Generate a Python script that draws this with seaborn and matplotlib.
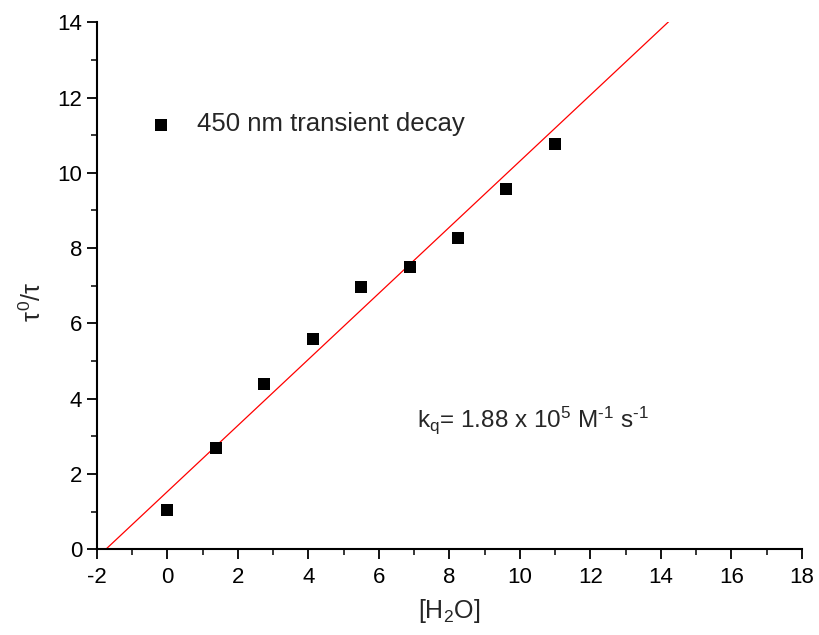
import numpy as np
import pandas as pd
import matplotlib
matplotlib.use('Agg')
import matplotlib.pyplot as plt
import seaborn as sns
from matplotlib.ticker import MultipleLocator

# data
water = [0.0, 1.37, 2.75, 4.12, 5.50, 6.87, 8.25, 9.62, 11.0]
tau_ratio = [1.03, 2.70, 4.40, 5.58, 6.97, 7.50, 8.27, 9.57, 10.77]
x_ticks = [-2, 0, 2, 4, 6, 8, 10, 12, 14, 16, 18]
y_ticks = [0, 2, 4, 6, 8, 10, 12, 14]
# Stern-Volmer line as drawn in the reference
fit_slope = 0.878
fit_intercept = 1.53

df = pd.DataFrame({'water': water, 'ratio': tau_ratio})

sns.set_style('ticks')
plt.rcParams['font.family'] = ['Liberation Sans', 'DejaVu Sans']
plt.rcParams['mathtext.fontset'] = 'custom'
plt.rcParams['mathtext.rm'] = 'Liberation Sans'
plt.rcParams['mathtext.it'] = 'Liberation Sans'
plt.rcParams['axes.unicode_minus'] = False

fig = plt.figure(figsize=(8.2, 6.35), dpi=100)
ax = fig.add_axes([0.118, 0.135, 0.860, 0.830])

xl = np.array([-5, 20])
ax.plot(xl, fit_slope * xl + fit_intercept, color='red', lw=0.9, zorder=1)

sns.scatterplot(data=df, x='water', y='ratio', marker='s', s=64, color='black',
                edgecolor='black', linewidth=0, ax=ax, zorder=3,
                label='450 nm transient decay')

ax.set_xlim(-2, 18)
ax.set_ylim(0, 14)
ax.set_xticks(x_ticks)
ax.set_yticks(y_ticks)
ax.xaxis.set_minor_locator(MultipleLocator(1))
ax.yaxis.set_minor_locator(MultipleLocator(1))
ax.tick_params(which='major', direction='out', length=7, width=1.3, labelsize=16, colors='black')
ax.tick_params(axis='x', which='major', pad=6)
ax.tick_params(which='minor', direction='out', length=4, width=1.3)
for s in ['top', 'right']:
    ax.spines[s].set_visible(False)
for s in ['left', 'bottom']:
    ax.spines[s].set_linewidth(1.5)
    ax.spines[s].set_color('black')

ax.set_xlabel(r'[H$_2$O]', fontsize=18, labelpad=6)
ax.set_ylabel(r'$\tau^0/\tau$', fontsize=18)
ax.yaxis.set_label_coords(-0.072, 0.47)

ax.legend(loc='center left', bbox_to_anchor=(0.073, 0.806), frameon=False,
          fontsize=18.5, handlelength=1.0, handletextpad=0.9,
          borderpad=0, borderaxespad=0)

ax.text(7.08, 3.24, r'k$_\mathrm{q}$= 1.88 x 10$^5$ M$^{\text{-1}}$ s$^{\text{-1}}$',
        fontsize=17.5, va='baseline')

fig.savefig('out.png', dpi=100)
